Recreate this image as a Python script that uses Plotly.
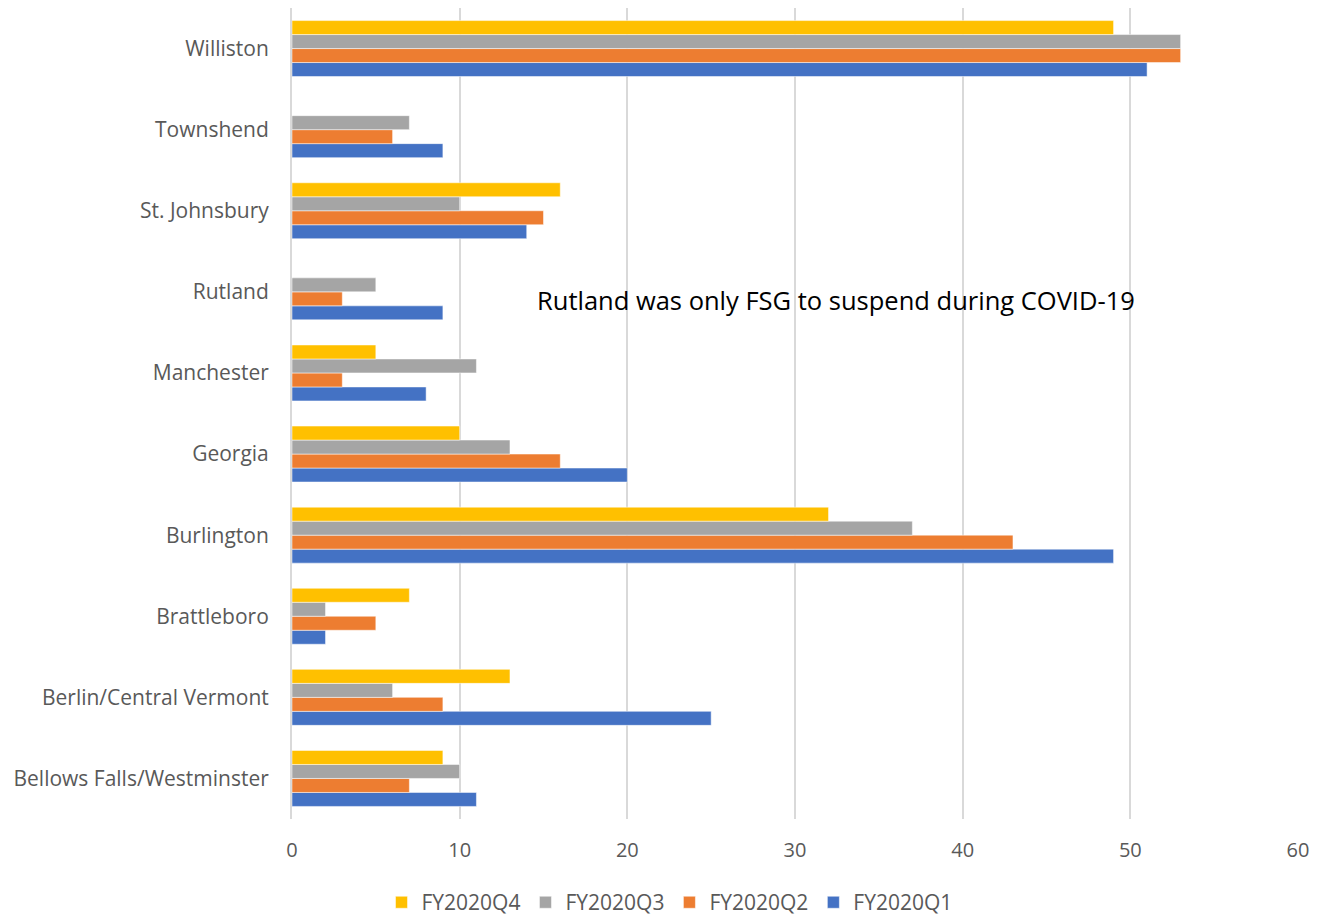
import plotly.graph_objects as go

categories = ["Bellows Falls/Westminster", "Berlin/Central Vermont", "Brattleboro", "Burlington",
              "Georgia", "Manchester", "Rutland", "St. Johnsbury", "Townshend", "Williston"]
q1 = [11, 25, 2, 49, 20, 8, 9, 14, 9, 51]
q2 = [7, 9, 5, 43, 16, 3, 3, 15, 6, 53]
q3 = [10, 6, 2, 37, 13, 11, 5, 10, 7, 53]
q4 = [9, 13, 7, 32, 10, 5, 0, 16, 0, 49]

series = [("FY2020Q1", q1, "#4472C4"), ("FY2020Q2", q2, "#ED7D31"),
          ("FY2020Q3", q3, "#A5A5A5"), ("FY2020Q4", q4, "#FFC000")]

fig = go.Figure()
for name, vals, color in series:
    fig.add_trace(go.Bar(y=categories, x=vals, name=name, orientation="h",
                         marker=dict(color=color, line=dict(color="white", width=0.5))))

font = "Open Sans"
fig.update_layout(
    width=1323, height=911,
    barmode="group", bargap=0.31, bargroupgap=0,
    plot_bgcolor="white", paper_bgcolor="white",
    margin=dict(l=284, r=33, t=0, b=100),
    font=dict(family=font, size=21, color="#595959"),
    xaxis=dict(range=[0, 60], dtick=10, showgrid=True, gridcolor="#D9D9D9", gridwidth=2,
               zeroline=False, showline=False, ticks="", tickfont=dict(size=20, color="#595959"),
               ticklabelstandoff=17, automargin=False),
    yaxis=dict(categoryorder="array", categoryarray=categories, showgrid=False,
               showline=True, linecolor="#D9D9D9", linewidth=2, ticks="",
               tickfont=dict(size=21, color="#595959"), ticklabelstandoff=17, automargin=False),
    legend=dict(orientation="h", traceorder="reversed", xref="container", x=0.5, xanchor="center",
                yref="container", y=0.018, yanchor="middle",
                font=dict(size=21, color="#595959"), itemwidth=30),
    annotations=[dict(text="Rutland was only FSG to suspend during COVID-19", x=0.2416, y=0.64,
                      xref="paper", yref="paper", xanchor="left", yanchor="middle", showarrow=False,
                      font=dict(family=font, size=25.5, color="#000000"))],
)
fig.write_html("out.html")
